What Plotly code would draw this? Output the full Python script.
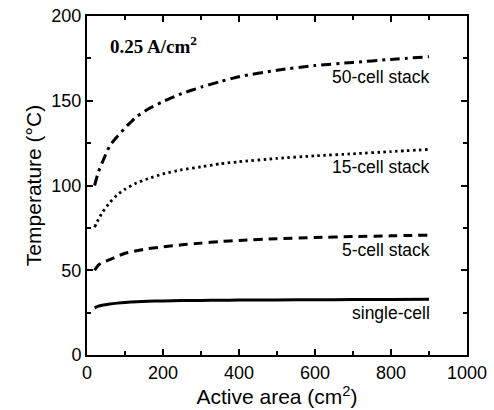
import plotly.graph_objects as go

area = [20, 30, 40, 60, 80, 100, 130, 160, 200, 250, 300, 350, 400, 500, 600, 700, 800, 900]
t_50 = [100, 108, 113.5, 123.5, 129, 134, 140.5, 145, 149.5, 154.3, 158, 161.3, 164.2, 168, 170.8, 172.6, 174.4, 176]
t_15 = [75.5, 80, 84, 90, 94.5, 97.8, 101.5, 104, 106.8, 109.3, 111, 112.8, 114, 116, 117.5, 118.7, 120, 121.3]
t_5 = [50, 53, 54.5, 56.3, 58.3, 60, 61.5, 62.7, 63.8, 65, 66, 66.9, 67.6, 68.6, 69.3, 69.9, 70.3, 70.7]
t_1 = [27.8, 28.8, 29.4, 30.1, 30.6, 31, 31.4, 31.7, 31.9, 32.1, 32.2, 32.3, 32.4, 32.5, 32.6, 32.7, 32.8, 32.9]

labels = ["50-cell stack", "15-cell stack", "5-cell stack", "single-cell"]
label_y = [164, 111, 62, 25]
series = [t_50, t_15, t_5, t_1]
dashes = ["10px,5px,3px,5px", "2.5px,3.5px", "9px,6px", "solid"]
widths = [3, 2.8, 3, 3]

fig = go.Figure()
for s, d, w, name in zip(series, dashes, widths, labels):
    fig.add_trace(go.Scatter(x=area, y=s, mode="lines", name=name,
                             line=dict(color="black", dash=d, width=w, shape="spline", smoothing=0.5)))

for lab, ly in zip(labels, label_y):
    fig.add_annotation(x=908, y=ly, text=lab, showarrow=False, xanchor="right",
                       yanchor="middle", font=dict(size=17.5, color="black",
                                                   family="Liberation Sans, Arial"))

fig.add_annotation(x=0.055, y=0.915, xref="paper", yref="paper",
                   text="<b>0.25 A/cm<sup>2</sup></b>", showarrow=False,
                   xanchor="left", yanchor="middle",
                   font=dict(size=19, color="black", family="Liberation Serif, Times New Roman"))

axis_common = dict(showgrid=False, zeroline=False, showline=True, linecolor="black",
                   linewidth=2, mirror="ticks", ticks="inside", ticklen=6, tickwidth=1.5,
                   tickcolor="black", tickfont=dict(size=18, color="black"), automargin=False)

fig.update_xaxes(range=[0, 1000], dtick=200, tick0=0,
                 title=dict(text="Active area (cm<sup>2</sup>)", font=dict(size=21, color="black"),
                            standoff=4),
                 minor=dict(ticks="inside", dtick=100, ticklen=4, tickwidth=1.5, tickcolor="black"),
                 **axis_common)
fig.update_yaxes(range=[0, 200], dtick=50, tick0=0,
                 title=dict(text="Temperature (°C)", font=dict(size=21, color="black"),
                            standoff=4),
                 minor=dict(ticks="inside", dtick=25, ticklen=4, tickwidth=1.5, tickcolor="black"),
                 **axis_common)

fig.update_layout(width=494, height=410, margin=dict(l=87, r=27, t=16, b=55, autoexpand=False),
                  plot_bgcolor="white", paper_bgcolor="white", showlegend=False,
                  font=dict(family="Liberation Sans, Arial", color="black"))

fig.write_html("out.html", config={"displayModeBar": False},
               post_script="document.body.style.margin='0';document.body.style.padding='0';")
